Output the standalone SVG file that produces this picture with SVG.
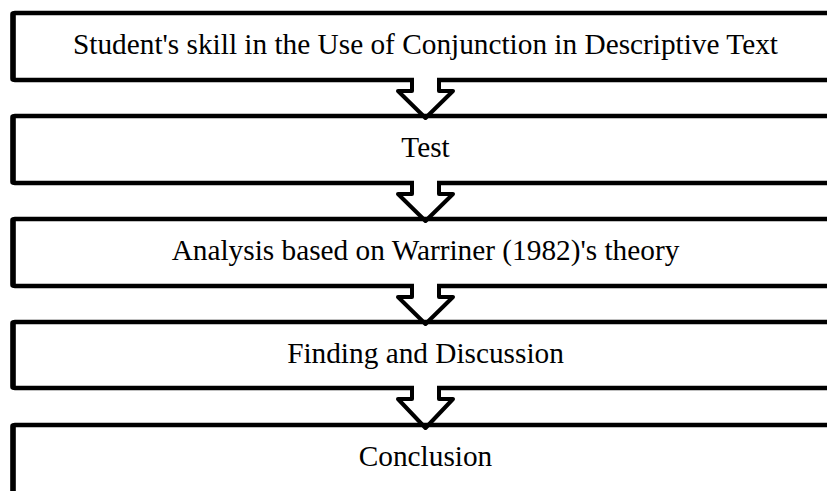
<svg xmlns="http://www.w3.org/2000/svg" width="827" height="491" viewBox="0 0 827 491">
  <style>
    .box { fill: #ffffff; stroke: #000000; stroke-width: 4.5; stroke-linejoin: round; }
    .edge { stroke: #000000; stroke-width: 5.5; stroke-linecap: round; }
    .lbl { font-family: "Liberation Serif", "Times New Roman", serif; font-size: 29.3px; fill: #000000; text-anchor: middle; }
    .gap { fill: #ffffff; }
    .arrow { fill: none; stroke: #000000; stroke-width: 4; stroke-linejoin: round; stroke-linecap: round; }
  </style>
  <rect width="827" height="491" fill="#ffffff"/>
  <g id="node1">
    <rect class="box" x="13" y="13" width="850" height="67" rx="2"/>
    <line class="edge" x1="13" y1="14" x2="13" y2="79"/>
    <text class="lbl" x="425.5" y="53.5">Student's skill in the Use of Conjunction in Descriptive Text</text>
  </g>
  <g id="node2">
    <rect class="box" x="13" y="116" width="850" height="67" rx="2"/>
    <line class="edge" x1="13" y1="117" x2="13" y2="182"/>
    <text class="lbl" x="425.5" y="156.5">Test</text>
  </g>
  <g id="node3">
    <rect class="box" x="13" y="219" width="850" height="67" rx="2"/>
    <line class="edge" x1="13" y1="220" x2="13" y2="285"/>
    <text class="lbl" x="425.5" y="259.5">Analysis based on Warriner (1982)'s theory</text>
  </g>
  <g id="node4">
    <rect class="box" x="13" y="322" width="850" height="66" rx="2"/>
    <line class="edge" x1="13" y1="323" x2="13" y2="387"/>
    <text class="lbl" x="425.5" y="362.5">Finding and Discussion</text>
  </g>
  <g id="node5">
    <rect class="box" x="13" y="425" width="850" height="69" rx="2"/>
    <line class="edge" x1="13" y1="426" x2="13" y2="495"/>
    <text class="lbl" x="425.5" y="465.5">Conclusion</text>
  </g>
  <g id="connectors">
    <rect class="gap" x="414" y="76" width="23" height="8"/>
    <polyline class="arrow" points="412,80 412,91 398,91 425.5,118 453,91 439,91 439,80"/>
    <rect class="gap" x="414" y="179" width="23" height="8"/>
    <polyline class="arrow" points="412,183 412,194 398,194 425.5,221 453,194 439,194 439,183"/>
    <rect class="gap" x="414" y="282" width="23" height="8"/>
    <polyline class="arrow" points="412,286 412,297 398,297 425.5,324 453,297 439,297 439,286"/>
    <rect class="gap" x="414" y="384" width="23" height="8"/>
    <polyline class="arrow" points="412,388 412,399 398,399 425.5,428 453,399 439,399 439,388"/>
  </g>
</svg>
